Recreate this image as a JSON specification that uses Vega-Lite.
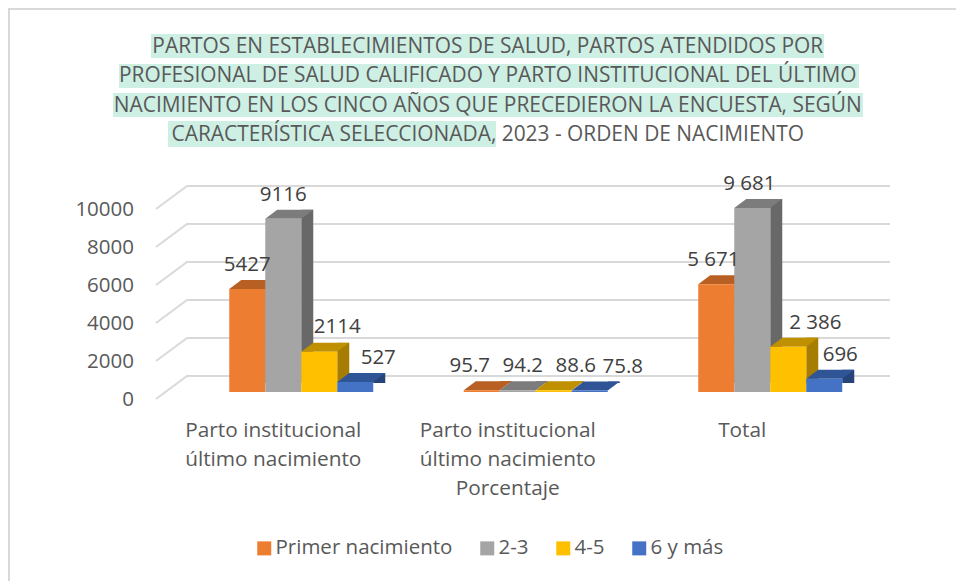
{
"$schema":"https://vega.github.io/schema/vega-lite/v6.json",
"width":703.5,"height":190,
"autosize":{"type":"none"},
"padding":{"left":184,"top":202,"right":68.5,"bottom":189},
"background":"white",
"config":{"view":{"stroke":null},"font":"Open Sans"},
"title":{"text":["PARTOS EN ESTABLECIMIENTOS DE SALUD, PARTOS ATENDIDOS POR","PROFESIONAL DE SALUD CALIFICADO Y PARTO INSTITUCIONAL DEL ÚLTIMO","NACIMIENTO EN LOS CINCO AÑOS QUE PRECEDIERON LA ENCUESTA, SEGÚN","CARACTERÍSTICA SELECCIONADA, 2023 - ORDEN DE NACIMIENTO"],
"font":"Open Sans","fontSize":20.9,"fontWeight":"normal","color":"#595959","lineHeight":29.5,"anchor":"middle","dx":-48,"offset":-137,"zindex":1},
"datasets":{
"bars":[
{"cat":"Parto institucional|último nacimiento","serie":"Primer nacimiento","valor":5427,"etiqueta":"5427"},
{"cat":"Parto institucional|último nacimiento","serie":"2-3","valor":9116,"etiqueta":"9116"},
{"cat":"Parto institucional|último nacimiento","serie":"4-5","valor":2114,"etiqueta":"2114"},
{"cat":"Parto institucional|último nacimiento","serie":"6 y más","valor":527,"etiqueta":"527"},
{"cat":"Parto institucional|último nacimiento|Porcentaje","serie":"Primer nacimiento","valor":95.7,"etiqueta":"95.7"},
{"cat":"Parto institucional|último nacimiento|Porcentaje","serie":"2-3","valor":94.2,"etiqueta":"94.2"},
{"cat":"Parto institucional|último nacimiento|Porcentaje","serie":"4-5","valor":88.6,"etiqueta":"88.6"},
{"cat":"Parto institucional|último nacimiento|Porcentaje","serie":"6 y más","valor":75.8,"etiqueta":"75.8"},
{"cat":"Total","serie":"Primer nacimiento","valor":5671,"etiqueta":"5 671"},
{"cat":"Total","serie":"2-3","valor":9681,"etiqueta":"9 681"},
{"cat":"Total","serie":"4-5","valor":2386,"etiqueta":"2 386"},
{"cat":"Total","serie":"6 y más","valor":696,"etiqueta":"696"}
],
"ticks":[{"t":0},{"t":2000},{"t":4000},{"t":6000},{"t":8000},{"t":10000}]
},
"data":{"name":"bars"},
"resolve":{"scale":{"color":"independent","xOffset":"independent"}},
"layer":[
{"mark":{"type":"rect","fill":"none","stroke":"#D9D9D9","strokeWidth":2},"data":{"values":[{}]},"encoding":{"x":{"value":-175},"x2":{"value":775},"y":{"value":-193},"y2":{"value":600}}},
{"mark":{"type":"rect","fill":"#CEEFE4"},"data":{"values":[{}]},"encoding":{"x":{"value":-33},"x2":{"value":640},"y":{"value":-168},"y2":{"value":-144}}},
{"mark":{"type":"rect","fill":"#CEEFE4"},"data":{"values":[{}]},"encoding":{"x":{"value":-65},"x2":{"value":675},"y":{"value":-138},"y2":{"value":-114}}},
{"mark":{"type":"rect","fill":"#CEEFE4"},"data":{"values":[{}]},"encoding":{"x":{"value":-71},"x2":{"value":679},"y":{"value":-109},"y2":{"value":-85}}},
{"mark":{"type":"rect","fill":"#CEEFE4"},"data":{"values":[{}]},"encoding":{"x":{"value":-16},"x2":{"value":312},"y":{"value":-81},"y2":{"value":-55}}},
{"data":{"name":"ticks"},
 "mark":{"type":"point","shape":"M-28,7L3,-16L706,-16","filled":false,"stroke":"#D9D9D9","strokeWidth":2,"size":4,"opacity":1},
 "encoding":{"x":{"value":0},"y":{"field":"t","type":"quantitative","scale":{"domain":[0,10000],"nice":false},"axis":null}}},
{"data":{"name":"ticks"},
 "mark":{"type":"text","align":"right","baseline":"middle","dy":8,"fontSize":20.5,"color":"#595959"},
 "encoding":{"x":{"value":-50},"y":{"field":"t","type":"quantitative","axis":null},"text":{"field":"t","type":"quantitative","format":"d"}}},
{"mark":{"type":"bar","width":12,"yOffset":-9},
 "encoding":{
  "x":{"field":"cat","type":"nominal","sort":null,"scale":{"paddingInner":0.386,"paddingOuter":0.193},"axis":{"title":null,"domain":false,"ticks":false,"labelAngle":0,"labelOffset":-28,"labelPadding":28,"labelFont":"Open Sans","labelFontSize":20.8,"labelColor":"#595959","labelLineHeight":29,"labelLimit":400,"labelExpr":"split(datum.label,'|')"}},
  "xOffset":{"field":"serie","type":"nominal","scale":{"type":"point","domain":["Primer nacimiento","2-3","4-5","6 y más"],"range":[42,150],"padding":0}},
  "y":{"field":"valor","type":"quantitative","axis":null},
  "color":{"field":"serie","type":"nominal","legend":null,"scale":{"domain":["Primer nacimiento","2-3","4-5","6 y más"],"range":["#A9581F","#686868","#A67D00","#264478"]}}
 }},
{"mark":{"type":"point","shape":"M-18,0L18,0L30,-9L-6,-9Z","filled":true,"size":4,"opacity":1},
 "encoding":{
  "x":{"field":"cat","type":"nominal","sort":null},
  "xOffset":{"field":"serie","type":"nominal","scale":{"domain":["Primer nacimiento","2-3","4-5","6 y más"]}},
  "y":{"field":"valor","type":"quantitative","axis":null},
  "color":{"field":"serie","type":"nominal","legend":null,"scale":{"domain":["Primer nacimiento","2-3","4-5","6 y más"],"range":["#B85F24","#7C7C7C","#BF9000","#2F5597"]}}
 }},
{"transform":[{"filter":"datum.serie==='6 y más'"}],
 "mark":{"type":"point","shape":"M18,1L31,1L31,-9Z","filled":true,"size":4,"opacity":1,"fill":"white","y":190},
 "encoding":{
  "x":{"field":"cat","type":"nominal","sort":null},
  "xOffset":{"field":"serie","type":"nominal","scale":{"domain":["Primer nacimiento","2-3","4-5","6 y más"]}}
 }},
{"mark":{"type":"bar"},
 "encoding":{
  "x":{"field":"cat","type":"nominal","sort":null},
  "xOffset":{"field":"serie","type":"nominal","scale":{"domain":["Primer nacimiento","2-3","4-5","6 y más"],"paddingInner":0,"paddingOuter":0}},
  "y":{"field":"valor","type":"quantitative","axis":null},
  "color":{"field":"serie","type":"nominal","title":null,
   "scale":{"domain":["Primer nacimiento","2-3","4-5","6 y más"],"range":["#ED7D31","#A5A5A5","#FFC000","#4472C4"]},
   "legend":{"orient":"none","legendX":70,"legendY":336,"direction":"horizontal","symbolType":"square","symbolSize":196,"symbolStrokeWidth":0,"symbolOpacity":1,"labelFont":"Open Sans","labelFontSize":20.5,"labelColor":"#595959","labelLimit":300,"columnPadding":24,"labelOffset":1,"values":["Primer nacimiento","2-3","4-5","6 y más"]}}
 }},
{"encoding":{
  "x":{"field":"cat","type":"nominal","sort":null},
  "xOffset":{"field":"serie","type":"nominal","scale":{"domain":["Primer nacimiento","2-3","4-5","6 y más"]}},
  "y":{"field":"valor","type":"quantitative","axis":null},
  "text":{"field":"etiqueta"}
 },
 "layer":[
 {"transform":[{"filter":"datum.etiqueta==='5427'||datum.etiqueta==='9116'"}],"mark":{"type":"text","fontSize":20.5,"color":"#404040","baseline":"middle","dx":0,"dy":-24}},
 {"transform":[{"filter":"datum.etiqueta==='2114'"}],"mark":{"type":"text","fontSize":20.5,"color":"#404040","baseline":"middle","dx":18,"dy":-25}},
 {"transform":[{"filter":"datum.etiqueta==='527'"}],"mark":{"type":"text","fontSize":20.5,"color":"#404040","baseline":"middle","dx":23,"dy":-24}},
 {"transform":[{"filter":"datum.etiqueta==='95.7'"}],"mark":{"type":"text","fontSize":20.5,"color":"#404040","baseline":"middle","dx":-12,"dy":-24}},
 {"transform":[{"filter":"datum.etiqueta==='94.2'"}],"mark":{"type":"text","fontSize":20.5,"color":"#404040","baseline":"middle","dx":5,"dy":-24}},
 {"transform":[{"filter":"datum.etiqueta==='88.6'"}],"mark":{"type":"text","fontSize":20.5,"color":"#404040","baseline":"middle","dx":22,"dy":-24}},
 {"transform":[{"filter":"datum.etiqueta==='75.8'"}],"mark":{"type":"text","fontSize":20.5,"color":"#404040","baseline":"middle","dx":33,"dy":-24}},
 {"transform":[{"filter":"datum.etiqueta==='5 671'||datum.etiqueta==='9 681'"}],"mark":{"type":"text","fontSize":20.5,"color":"#404040","baseline":"middle","dx":-3,"dy":-24}},
 {"transform":[{"filter":"datum.etiqueta==='2 386'"}],"mark":{"type":"text","fontSize":20.5,"color":"#404040","baseline":"middle","dx":27,"dy":-24}},
 {"transform":[{"filter":"datum.etiqueta==='696'"}],"mark":{"type":"text","fontSize":20.5,"color":"#404040","baseline":"middle","dx":16,"dy":-24}}
 ]}
]
}
